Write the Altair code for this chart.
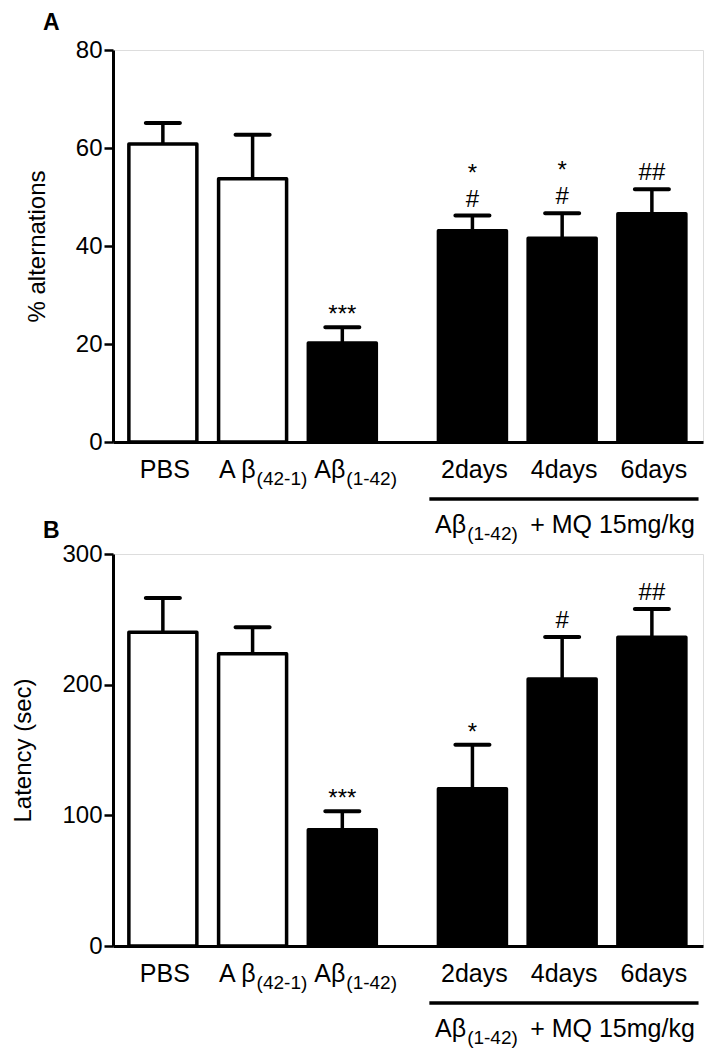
import altair as alt
import pandas as pd

# ---------------- data ----------------
groups = ["PBS", "Aβ(42-1)", "Aβ(1-42)", "2days", "4days", "6days"]
label_main = ["PBS", "A β", "Aβ", "2days", "4days", "6days"]
label_sub = ["", "(42-1)", "(1-42)", "", "", ""]
bar_kind = ["open", "open", "solid", "solid", "solid", "solid"]

alt_mean = [60.8, 53.7, 20.2, 43.1, 41.6, 46.6]
alt_upper = [65.1, 62.7, 23.4, 46.2, 46.7, 51.6]      # mean + SEM
alt_star = ["", "", "***", "*", "*", ""]
alt_hash = ["", "", "", "#", "#", "##"]
alt_ticks = [0, 20, 40, 60, 80]

lat_mean = [240.1, 223.7, 89.0, 120.4, 204.3, 236.2]
lat_upper = [266.3, 243.9, 103.1, 154.1, 236.5, 257.9]  # mean + SEM
lat_star = ["", "", "***", "*", "", ""]
lat_hash = ["", "", "", "", "#", "##"]
lat_ticks = [0, 100, 200, 300]

group_main = "Aβ"
group_sub = "(1-42)"
group_rest = "+ MQ 15mg/kg"

# ---------------- layout / style ----------------
FONT = "Liberation Sans"
FS = 24
LFS = 25
W, H = 590, 392
GAP_AFTER = 3        # index where the treated group starts
GAP = 0.45           # extra spacing (in bar slots) before the treated group
pos = [i + (GAP if i >= GAP_AFTER else 0) for i in range(len(groups))]
XDOM = [-0.5, pos[-1] + 0.514]


def panel(mean, upper, star, hsh, ticks, ytitle, letter, letter_y):
    df = pd.DataFrame({
        "group": groups, "pos": pos, "mean": mean, "upper": upper,
        "star": star, "hash": hsh, "kind": bar_kind,
        "main": label_main, "sub": label_sub,
    })
    base = alt.Chart(df)
    x = alt.X("pos:Q", scale=alt.Scale(domain=XDOM, nice=False, zero=False),
              axis=alt.Axis(title=None, labels=False, ticks=False, grid=False,
                            domainWidth=3, domainColor="black"))
    yscale = alt.Scale(domain=[ticks[0], ticks[-1]], nice=False)
    yaxis = alt.Axis(title=ytitle, values=ticks, grid=False, domainWidth=3,
                     domainColor="black", tickColor="black", tickWidth=2.5,
                     tickSize=9, labelFont=FONT, labelFontSize=FS,
                     labelColor="black", labelPadding=2, titleFont=FONT,
                     titleFontSize=FS, titleFontWeight="normal",
                     titleColor="black", titlePadding=26)
    y = alt.Y("mean:Q", scale=yscale, axis=yaxis, title=ytitle)

    bars = base.mark_bar(size=68, stroke="black", strokeWidth=3.5,
                         strokeJoin="round").encode(
        x=x, y=y,
        fill=alt.Fill("kind:N", scale=alt.Scale(domain=["open", "solid"],
                                                range=["white", "black"]),
                      legend=None),
    )
    stem = base.mark_rule(color="black", strokeWidth=3.5).encode(
        x="pos:Q", y=alt.Y("mean:Q", title=ytitle), y2="upper:Q")
    cap = base.mark_tick(orient="horizontal", color="black", size=38,
                         thickness=4, cornerRadius=2, opacity=1).encode(
        x="pos:Q", y=alt.Y("upper:Q", title=ytitle))

    txt = dict(font=FONT, fontSize=FS, color="black", baseline="alphabetic")
    ltxt = dict(font=FONT, fontSize=LFS, color="black", baseline="alphabetic")
    hash_t = base.transform_filter("datum.hash != ''").mark_text(
        dy=-9, **txt).encode(x="pos:Q", y=alt.Y("upper:Q", title=ytitle),
                             text="hash:N")
    star_alone = base.transform_filter(
        "datum.star != '' && datum.hash == ''").mark_text(
        dy=-5, **txt).encode(x="pos:Q", y=alt.Y("upper:Q", title=ytitle),
                             text="star:N")
    star_over = base.transform_filter(
        "datum.star != '' && datum.hash != ''").mark_text(
        dy=-35, **txt).encode(x="pos:Q", y=alt.Y("upper:Q", title=ytitle),
                              text="star:N")

    # category labels under the axis
    lab_plain = base.transform_filter("datum.sub == ''").mark_text(
        align="center", dx=2, **ltxt).encode(x="pos:Q", y=alt.value(H + 36),
                                             text="main:N")
    lab_main = base.transform_filter("datum.sub != ''").mark_text(
        align="right", dx=3, **ltxt).encode(x="pos:Q", y=alt.value(H + 36),
                                            text="main:N")
    lab_sub = base.transform_filter("datum.sub != ''").mark_text(
        align="left", dx=4, font=FONT, fontSize=19, color="black",
        baseline="alphabetic").encode(x="pos:Q", y=alt.value(H + 43),
                                      text="sub:N")

    # group bracket line + label
    gdf = pd.DataFrame({
        "x0": [pos[GAP_AFTER] - 0.48], "x1": [pos[-1] + 0.52],
        "xc": [sum(pos[GAP_AFTER:]) / len(pos[GAP_AFTER:])],
        "main": [group_main], "sub": [group_sub], "rest": [group_rest],
    })
    gbase = alt.Chart(gdf)
    gline = gbase.mark_rule(color="black", strokeWidth=3.5).encode(
        x="x0:Q", x2="x1:Q", y=alt.value(H + 57))
    g_main = gbase.mark_text(align="right", dx=-96, **ltxt).encode(
        x="xc:Q", y=alt.value(H + 91), text="main:N")
    g_sub = gbase.mark_text(align="left", dx=-95, font=FONT, fontSize=19,
                            color="black", baseline="alphabetic").encode(
        x="xc:Q", y=alt.value(H + 98), text="sub:N")
    g_rest = gbase.mark_text(align="left", dx=-32, **ltxt).encode(
        x="xc:Q", y=alt.value(H + 91), text="rest:N")

    ldf = pd.DataFrame({"letter": [letter]})
    letter_t = alt.Chart(ldf).mark_text(
        align="left", baseline="alphabetic", font=FONT, fontSize=23,
        fontWeight="bold", color="black").encode(
        x=alt.value(-70), y=alt.value(letter_y), text="letter:N")

    return alt.layer(bars, stem, cap, hash_t, star_alone, star_over,
                     lab_plain, lab_main, lab_sub, gline, g_main, g_sub,
                     g_rest, letter_t).properties(width=W, height=H)


pa = panel(alt_mean, alt_upper, alt_star, alt_hash, alt_ticks,
           "% alternations", "A", -20)
pb = panel(lat_mean, lat_upper, lat_star, lat_hash, lat_ticks,
           "Latency (sec)", "B", -16)

chart = alt.vconcat(pa, pb, spacing=112, bounds="flush").properties(
    padding={"left": 3, "top": 3, "right": 0, "bottom": 0}
).configure_view(stroke=None).configure(background="white")

chart.save("out.html", embed_options={"renderer": "svg", "actions": False})
